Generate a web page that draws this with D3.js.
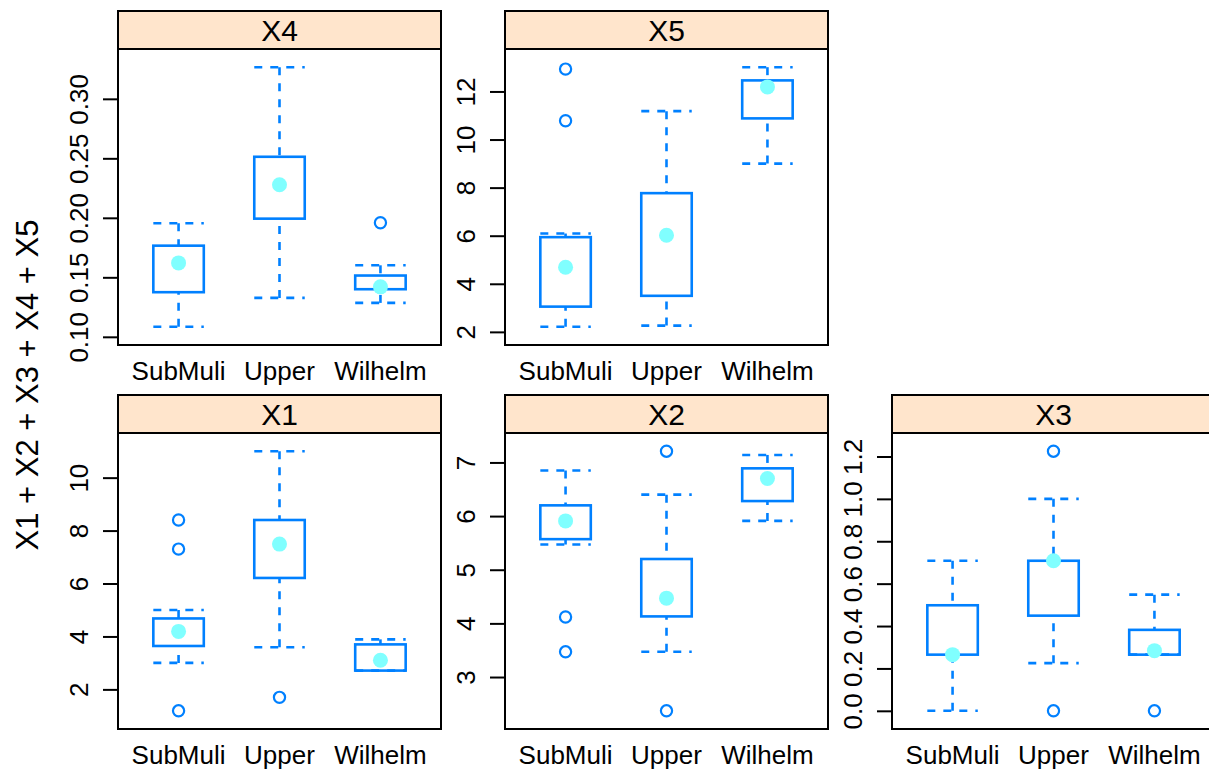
<!DOCTYPE html>
<html>
<head>
<meta charset="utf-8">
<script src="https://cdn.jsdelivr.net/npm/d3@7"></script>
<style>
body { margin: 0; background: #fff; }
svg { display: block; font-family: "Liberation Sans", Arial, Helvetica, sans-serif; }
</style>
</head>
<body>
<svg id="bwplot" width="1209" height="770"></svg>
<script>
// categories on the x axis of every panel
const sites = ['SubMuli', 'Upper', 'Wilhelm']

// per site: [lower whisker, lower hinge, median, upper hinge, upper whisker]
const x1Stats = [[3.00, 3.64, 4.19, 4.68, 5.00], [3.59, 6.21, 7.49, 8.40, 11.00], [2.71, 2.71, 3.10, 3.70, 3.89]]
const x2Stats = [[5.47, 5.57, 5.91, 6.20, 6.85], [3.47, 4.13, 4.47, 5.20, 6.40], [5.91, 6.28, 6.70, 6.89, 7.14]]
const x3Stats = [[0.00, 0.265, 0.265, 0.498, 0.708], [0.225, 0.449, 0.708, 0.708, 1.00], [0.265, 0.265, 0.284, 0.382, 0.548]]
const x4Stats = [[0.1084, 0.1375, 0.1621, 0.1766, 0.1954], [0.1327, 0.1993, 0.2278, 0.2513, 0.3266], [0.1285, 0.140, 0.142, 0.1515, 0.1601]]
const x5Stats = [[2.21, 3.05, 4.69, 5.94, 6.09], [2.26, 3.50, 6.02, 7.77, 11.18], [9.00, 10.88, 12.19, 12.46, 13.01]]

// outliers per site
const x1Outliers = [[8.40, 7.30, 1.19], [1.70], []]
const x2Outliers = [[4.12, 3.47], [7.21, 2.37], []]
const x3Outliers = [[], [1.225, 0.00], [0.00]]
const x4Outliers = [[], [], [0.1959]]
const x5Outliers = [[12.93, 10.78], [], []]

// y tick values and their labels
const x1Ticks = [2, 4, 6, 8, 10]
const x1TickLabels = ['2', '4', '6', '8', '10']
const x2Ticks = [3, 4, 5, 6, 7]
const x2TickLabels = ['3', '4', '5', '6', '7']
const x3Ticks = [0, 0.2, 0.4, 0.6, 0.8, 1.0, 1.2]
const x3TickLabels = ['0.0', '0.2', '0.4', '0.6', '0.8', '1.0', '1.2']
const x4Ticks = [0.10, 0.15, 0.20, 0.25, 0.30]
const x4TickLabels = ['0.10', '0.15', '0.20', '0.25', '0.30']
const x5Ticks = [2, 4, 6, 8, 10, 12]
const x5TickLabels = ['2', '4', '6', '8', '10', '12']

const panelNames = ['X4', 'X5', 'X1', 'X2', 'X3']
const panelRows = [0, 0, 1, 1, 1]
const panelCols = [0, 1, 0, 1, 2]

const panels = [
	{ stats: x4Stats, outliers: x4Outliers, ticks: x4Ticks, labels: x4TickLabels },
	{ stats: x5Stats, outliers: x5Outliers, ticks: x5Ticks, labels: x5TickLabels },
	{ stats: x1Stats, outliers: x1Outliers, ticks: x1Ticks, labels: x1TickLabels },
	{ stats: x2Stats, outliers: x2Outliers, ticks: x2Ticks, labels: x2TickLabels },
	{ stats: x3Stats, outliers: x3Outliers, ticks: x3Ticks, labels: x3TickLabels }
].map((p, i) => ({ ...p, name: panelNames[i], row: panelRows[i], col: panelCols[i] }))

const svg = d3.select('#bwplot')

// layout (lattice-like)
const colLeft = [118, 505, 892]
const rowTop = [11, 395]
const panelW = 323
const stripH = 38
const plotH = 296

const boxColor = '#0080ff'
const dotColor = '#80ffff'
const stripColor = '#ffe5cc'
const axisFont = 26

// y axis title
svg.append('text')
	.attr('transform', 'translate(38, 385) rotate(-90)')
	.attr('text-anchor', 'middle')
	.style('font-size', '31px')
	.text('X1 + X2 + X3 + X4 + X5')

panels.forEach(p => {
	const left = colLeft[p.col]
	const top = rowTop[p.row]
	const plotTop = top + stripH
	const plotBottom = plotTop + plotH

	const g = svg.append('g')

	// x: factor levels on [0.4, n + 0.6]
	const xScale = d3.scaleLinear()
		.domain([0.4, sites.length + 0.6])
		.range([left, left + panelW])

	// y: data range padded by 7% on each side
	const allValues = p.stats.flat().concat(p.outliers.flat())
	const [lo, hi] = d3.extent(allValues)
	const pad = (hi - lo) * 0.07
	const yScale = d3.scaleLinear()
		.domain([lo - pad, hi + pad])
		.range([plotBottom, plotTop])

	const boxHalf = (xScale(1.25) - xScale(1))

	// whiskers
	const whisk = g.append('g')
		.attr('stroke', boxColor)
		.attr('stroke-width', 2.6)
		.attr('stroke-dasharray', '8,8')
		.attr('fill', 'none')

	p.stats.forEach((s, i) => {
		const cx = xScale(i + 1)
		whisk.append('line')
			.attr('x1', cx).attr('x2', cx)
			.attr('y1', yScale(s[4])).attr('y2', yScale(s[3]))
		whisk.append('line')
			.attr('x1', cx).attr('x2', cx)
			.attr('y1', yScale(s[0])).attr('y2', yScale(s[1]))
		whisk.append('line')
			.attr('x1', cx - boxHalf).attr('x2', cx + boxHalf)
			.attr('y1', yScale(s[4])).attr('y2', yScale(s[4]))
		whisk.append('line')
			.attr('x1', cx - boxHalf).attr('x2', cx + boxHalf)
			.attr('y1', yScale(s[0])).attr('y2', yScale(s[0]))
	})

	// boxes
	g.selectAll('rect.box')
		.data(p.stats)
		.enter()
		.append('rect')
			.attr('class', 'box')
			.attr('x', (d, i) => xScale(i + 1) - boxHalf)
			.attr('y', d => yScale(d[3]))
			.attr('width', boxHalf * 2)
			.attr('height', d => yScale(d[1]) - yScale(d[3]))
			.attr('fill', 'none')
			.attr('stroke', boxColor)
			.attr('stroke-width', 2.6)

	// median dots
	g.selectAll('circle.med')
		.data(p.stats)
		.enter()
		.append('circle')
			.attr('class', 'med')
			.attr('cx', (d, i) => xScale(i + 1))
			.attr('cy', d => yScale(d[2]))
			.attr('r', 7.5)
			.attr('fill', dotColor)

	// outliers
	p.outliers.forEach((arr, i) => {
		g.selectAll(null)
			.data(arr)
			.enter()
			.append('circle')
				.attr('cx', xScale(i + 1))
				.attr('cy', d => yScale(d))
				.attr('r', 5.6)
				.attr('fill', 'none')
				.attr('stroke', boxColor)
				.attr('stroke-width', 2.2)
	})

	// strip
	g.append('rect')
		.attr('x', left).attr('y', top)
		.attr('width', panelW).attr('height', stripH)
		.attr('fill', stripColor)
		.attr('stroke', 'black')
		.attr('stroke-width', 2)
	g.append('text')
		.attr('x', left + panelW / 2)
		.attr('y', top + stripH / 2 + 10.5)
		.attr('text-anchor', 'middle')
		.style('font-size', '30px')
		.text(p.name)

	// panel border
	g.append('rect')
		.attr('x', left).attr('y', plotTop)
		.attr('width', panelW).attr('height', plotH)
		.attr('fill', 'none')
		.attr('stroke', 'black')
		.attr('stroke-width', 2)

	// y axis
	const yAxis = d3.axisLeft(yScale)
		.tickValues(p.ticks)
		.tickSize(15)
		.tickFormat((d, i) => p.labels[i])

	const ax = g.append('g')
		.attr('transform', `translate(${left}, 0)`)
		.call(yAxis)
	ax.select('path.domain').remove()
	ax.selectAll('.tick line').attr('stroke', 'black').attr('stroke-width', 2)
	ax.selectAll('.tick text')
		.attr('x', null)
		.attr('dy', null)
		.attr('transform', 'translate(-30, 0) rotate(-90)')
		.attr('text-anchor', 'middle')
		.attr('fill', 'black')
		.style('font-size', axisFont + 'px')
		.style('font-family', '"Liberation Sans", Arial, Helvetica, sans-serif')

	// x labels
	g.selectAll('text.site')
		.data(sites)
		.enter()
		.append('text')
			.attr('class', 'site')
			.attr('x', (d, i) => xScale(i + 1))
			.attr('y', plotBottom + 35)
			.attr('text-anchor', 'middle')
			.style('font-size', axisFont + 'px')
			.text(d => d)
})
</script>
</body>
</html>
